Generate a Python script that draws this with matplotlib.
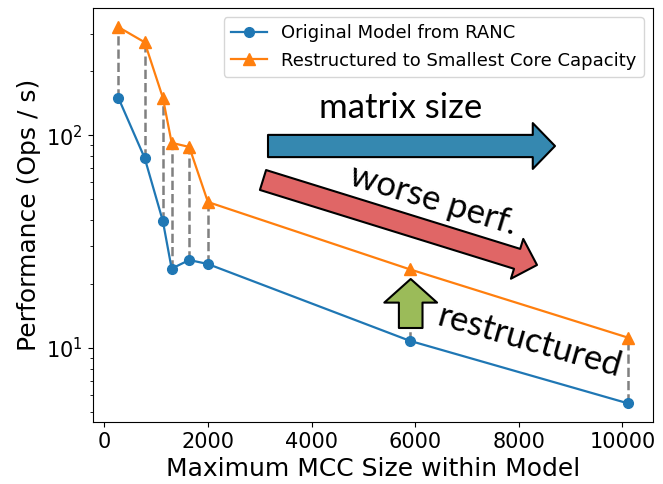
import numpy as np
import matplotlib
matplotlib.use("Agg")
import matplotlib.pyplot as plt
import matplotlib.patches as mpatches

# data
mcc_size = [270, 780, 1130, 1300, 1640, 2000, 5900, 10100]
perf_original = [150, 78, 39.5, 23.6, 25.9, 24.8, 10.8, 5.5]
perf_restructured = [322, 273, 150, 92, 88, 48.5, 23.4, 11.2]
label_original = "Original Model from RANC"
label_restructured = "Restructured to Smallest Core Capacity"

fig = plt.figure(figsize=(6.63, 4.84), dpi=100)
ax = fig.add_axes([0.140, 0.128, 0.845, 0.855])

ax.vlines(mcc_size, perf_original, perf_restructured, colors="gray",
          linestyles="--", linewidth=1.8, zorder=1)
ax.plot(mcc_size, perf_original, "-o", color="tab:blue", ms=7, lw=1.6,
        label=label_original, zorder=3)
ax.plot(mcc_size, perf_restructured, "-^", color="tab:orange", ms=8, lw=1.6,
        label=label_restructured, zorder=3)
ax.set_yscale("log")

ax.set_xlabel("Maximum MCC Size within Model", fontsize=18)
ax.set_ylabel("Performance (Ops / s)", fontsize=18)
ax.tick_params(labelsize=15)
ax.legend(loc="upper right", fontsize=13)


def px(x, y):
    # figure pixel position (from top-left) -> figure fraction
    return (x / 663, 1 - y / 484)


def arrow(p0, p1, color, tail_w, head_w, head_l):
    style = mpatches.ArrowStyle.Simple(head_length=head_l, head_width=head_w,
                                       tail_width=tail_w)
    a = mpatches.FancyArrowPatch(px(*p0), px(*p1), arrowstyle=style,
                                 transform=fig.transFigure, facecolor=color,
                                 edgecolor="black", lw=1.5, shrinkA=0,
                                 shrinkB=0, mutation_scale=1, zorder=5)
    fig.patches.append(a)


arrow((268, 146), (555, 146), "#3588b0", 16, 33, 16)
arrow((263, 180), (537, 265), "#e06666", 15, 30, 15)
arrow((410.7, 328), (410.7, 279), "#9bbb59", 17, 38, 17)

note_font = "Lato"
fig.text(*px(401, 108), "matrix size", fontsize=25, family=note_font,
         ha="center", va="center")
fig.text(*px(433, 200), "worse perf.", fontsize=25, family=note_font,
         ha="center", va="center", rotation=-17, rotation_mode="anchor")
fig.text(*px(530, 342), "restructured", fontsize=25, family=note_font,
         ha="center", va="center", rotation=-16, rotation_mode="anchor")

fig.savefig("out.png", dpi=100)
